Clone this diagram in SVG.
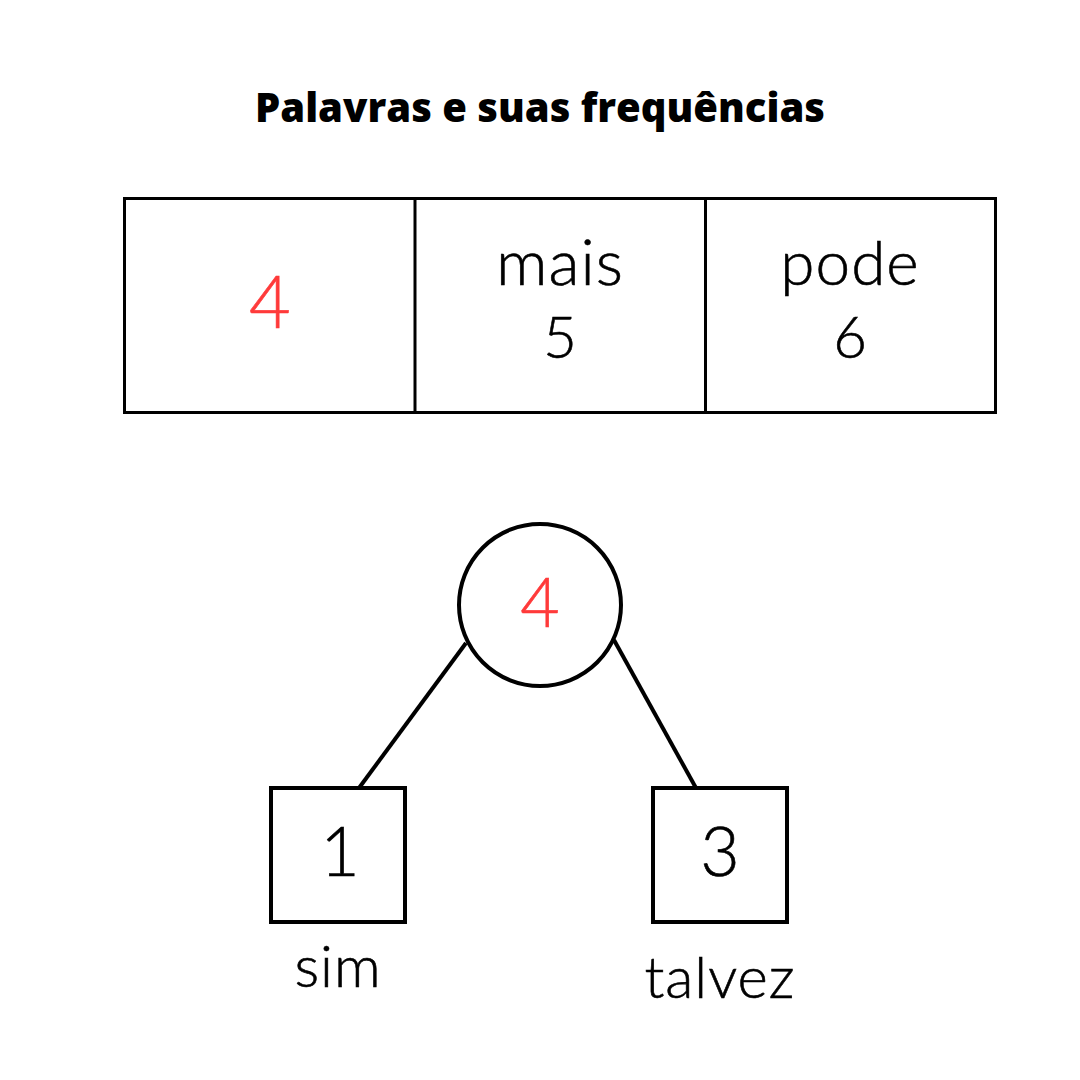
<svg xmlns="http://www.w3.org/2000/svg" width="1080" height="1080" viewBox="0 0 1080 1080">
<style>
.t{font-family:"Lato","Noto Sans","Liberation Sans",sans-serif;font-weight:300;fill:#000;text-anchor:middle;stroke:#000;stroke-width:0.6}
.r{fill:#ff3a3a;stroke:#ff3a3a}
.title{font-family:"Open Sans","Noto Sans","Liberation Sans",sans-serif;font-weight:800;font-size:40px;fill:#000;text-anchor:middle}
.box{fill:#fff;stroke:#000;stroke-width:4}
.edge{stroke:#000;stroke-width:4;fill:none}
</style>
<rect width="1080" height="1080" fill="#fff"/>
<text id="title" class="title" x="540" y="122">Palavras e suas frequências</text>
<g id="table">
<rect x="124.5" y="198.5" width="871" height="214" fill="#fff" stroke="#000" stroke-width="3"/>
<line x1="415" y1="198" x2="415" y2="413" stroke="#000" stroke-width="3"/>
<line x1="705.5" y1="198" x2="705.5" y2="413" stroke="#000" stroke-width="3"/>
<text class="t r" x="270" y="328" font-size="72">4</text>
<text class="t" x="560" y="285" font-size="64" letter-spacing="1">mais</text>
<text class="t" x="560" y="358" font-size="58">5</text>
<text class="t" x="850" y="285" font-size="62" letter-spacing="1">pode</text>
<text class="t" x="850" y="358" font-size="58">6</text>
</g>
<g id="connectors">
<line class="edge" x1="466" y1="643" x2="359" y2="788"/>
<line class="edge" x1="614" y1="640" x2="696" y2="788"/>
</g>
<g id="root">
<circle cx="540" cy="605" r="81" fill="#fff" stroke="#000" stroke-width="4"/>
<text class="t r" x="540" y="627" font-size="68">4</text>
</g>
<g id="leaf-sim">
<rect class="box" x="271" y="788" width="134" height="134"/>
<text class="t" x="340" y="876" font-size="68">1</text>
<text class="t" x="338" y="987" font-size="58" letter-spacing="1">sim</text>
</g>
<g id="leaf-talvez">
<rect class="box" x="653" y="788" width="134" height="134"/>
<text class="t" x="720" y="876" font-size="68">3</text>
<text class="t" x="720" y="998" font-size="58" letter-spacing="1">talvez</text>
</g>
</svg>
